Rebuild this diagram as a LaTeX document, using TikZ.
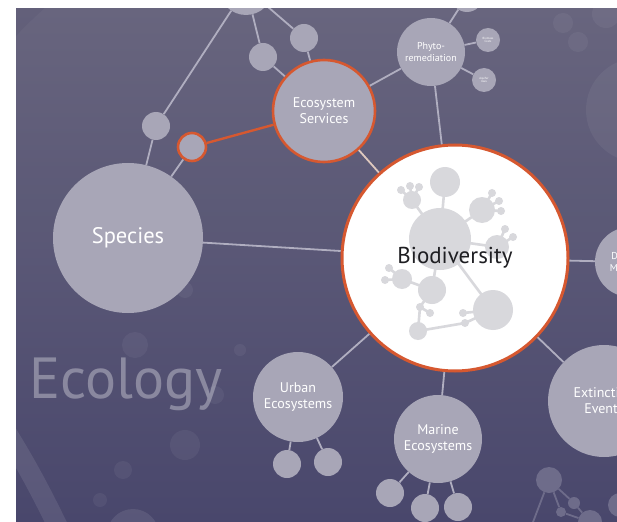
\documentclass[tikz,border=0pt]{standalone}
\usepackage{fontspec}
\setmainfont{PT Sans}
\definecolor{bgtop}{RGB}{99,96,122}
\definecolor{bgbot}{RGB}{67,65,103}
\definecolor{nodegray}{RGB}{168,166,183}
\definecolor{linegray}{RGB}{176,174,192}
\definecolor{accent}{RGB}{214,88,48}
\definecolor{peach}{RGB}{222,200,190}
\definecolor{decor}{RGB}{216,216,220}
\definecolor{faintmol}{RGB}{110,108,138}
\tikzset{
  gnode/.style={circle, fill=nodegray, inner sep=0pt, text=white, align=center},
  onode/.style={gnode, draw=accent, line width=2.6pt},
  conn/.style={draw=linegray, line width=1.8pt},
  oconn/.style={draw=accent, line width=2.4pt},
  deco/.style={fill=decor},
  decoline/.style={draw=decor, line width=2.6pt},
  faint/.style={fill=white, fill opacity=0.05},
  fmol/.style={fill=faintmol},
  fmolline/.style={draw=faintmol, line width=1.8pt},
}
\begin{document}
\begin{tikzpicture}[x=1pt,y=-1pt]
\useasboundingbox (0,0) rectangle (617,521);
\begin{scope}
\clip (16,9) rectangle (617,521);
\shade[top color=bgtop, bottom color=bgbot] (16,9) rectangle (617,521);
% faint background shapes
\fill[white, fill opacity=0.035] (330,330) circle (430);
\draw[white, draw opacity=0.09, line width=20pt] (5,430) .. controls (30,470) and (45,500) .. (62,535);
\fill[faint] (638,110) circle (52);
\fill[faint] (563,23) circle (10);
\fill[faint] (578,42) circle (10);
\fill[faint] (606,14) circle (14);
\fill[faint] (135,345) circle (13);
\fill[faint] (185,290) circle (8);
\fill[faint] (185,445) circle (15);
\fill[faint] (123,470) circle (9);
\fill[faint] (215,395) circle (9);
\fill[faint] (240,350) circle (6);
\fill[faint] (100,500) circle (7);
\fill[white, fill opacity=0.09] (133,535) circle (26);
% Ecology
\node[text=white, text opacity=0.33, font=\fontsize{58}{62}\selectfont] (ecology) at (126,384) {Ecology};
% faint molecule bottom right
\coordinate (fm0) at (530,530);
\node[circle, fmol, minimum size=26pt, inner sep=0pt] (bm0) at (549,480) {};
\node[circle, fmol, minimum size=10pt, inner sep=0pt] (bm1) at (561,512) {};
\node[circle, fmol, minimum size=12pt, inner sep=0pt] (bm2) at (574,503) {};
\node[circle, fmol, minimum size=24pt, inner sep=0pt] (bm3) at (590,522) {};
\node[circle, fmol, minimum size=24pt, inner sep=0pt] (bm4) at (620,505) {};
\draw[fmolline] (bm0) -- (fm0);
\draw[fmolline] (bm0) -- (bm1);
\draw[fmolline] (bm0) -- (bm2);
\draw[fmolline] (bm2) -- (bm3);
\draw[fmolline] (bm1) -- (bm3);
% nodes
\node[gnode, minimum size=54pt] (topc) at (246,-12) {};
\node[gnode, minimum size=28pt] (s1) at (263,57) {};
\node[gnode, minimum size=28pt] (s2) at (304,38) {};
\node[gnode, minimum size=28pt] (s3) at (156,126) {};
\node[onode, minimum size=28pt] (os) at (192,147) {};
\node[gnode, minimum size=150pt, font=\fontsize{22.5}{26}\selectfont] (species) at (128,238) {Species};
\node[onode, minimum size=102pt, font=\fontsize{14}{16}\selectfont] (eco) at (324,111) {Ecosystem\\Services};
\node[gnode, minimum size=68pt, font=\fontsize{10}{11.5}\selectfont] (phyto) at (431,52) {Phyto-\\remediation};
\node[gnode, minimum size=32pt] (phtop) at (467,-4) {};
\node[gnode, minimum size=24pt, font=\fontsize{3}{3.5}\selectfont] (biom) at (488,40) {Biomass\\Costs};
\node[gnode, minimum size=24pt, font=\fontsize{3}{3.5}\selectfont] (aqui) at (484,80) {Aquifer\\Uses};
\node[circle, fill=white, draw=accent, line width=3pt, inner sep=0pt, minimum size=226pt] (bio) at (455,258) {};
\node[gnode, minimum size=70pt, font=\fontsize{10}{12.5}\selectfont] (dis) at (630,262) {Diversity\\Measures};
\node[gnode, minimum size=112pt, font=\fontsize{14}{16}\selectfont] (ext) at (604,401) {Extinction\\Events};
\node[gnode, minimum size=88pt, font=\fontsize{14}{16.5}\selectfont] (marine) at (438,439) {Marine\\Ecosystems};
\node[gnode, minimum size=28pt] (m1) at (390,493) {};
\node[gnode, minimum size=28pt] (m2) at (425,508) {};
\node[gnode, minimum size=28pt] (m3) at (458,507) {};
\node[gnode, minimum size=90pt, font=\fontsize{14}{16.5}\selectfont] (urban) at (298,397) {Urban\\Ecosystems};
\node[gnode, minimum size=28pt] (u1) at (287,464) {};
\node[gnode, minimum size=28pt] (u2) at (328,462) {};
% connectors
\draw[conn] (topc) -- (s3);
\draw[conn] (topc) -- (s1);
\draw[conn] (topc) -- (s2);
\draw[conn] (s1) -- (eco);
\draw[conn] (s2) -- (eco);
\draw[conn] (s3) -- (species);
\draw[conn] (os) -- (species);
\draw[oconn] (os) -- (eco);
\draw[conn] (eco) -- (phyto);
\draw[draw=peach, line width=1.8pt] (eco) -- (bio);
\draw[conn] (phyto) -- (bio);
\draw[conn] (phyto) -- (phtop);
\draw[conn] (phyto) -- (biom);
\draw[conn] (phyto) -- (aqui);
\draw[conn] (species) -- (bio);
\draw[conn] (bio) -- (dis);
\draw[conn] (bio) -- (ext);
\draw[conn] (bio) -- (marine);
\draw[conn] (bio) -- (urban);
\draw[conn] (marine) -- (m1);
\draw[conn] (marine) -- (m2);
\draw[conn] (marine) -- (m3);
\draw[conn] (urban) -- (u1);
\draw[conn] (urban) -- (u2);
% decoration inside Biodiversity
\draw[decoline] (440,239) -- (445,182);
\draw[decoline] (440,239) -- (482,210);
\draw[decoline] (440,239) -- (497,247);
\draw[decoline] (440,239) -- (412,200);
\draw[decoline] (440,239) -- (432,290);
\draw[decoline] (440,239) -- (493,310);
\draw[decoline] (432,290) -- (402,279);
\draw[decoline] (402,279) -- (389,268);
\draw[decoline] (402,279) -- (385,280);
\draw[decoline] (432,290) -- (420,307) -- (418,331);
\draw[decoline] (420,307) -- (430,313);
\draw[decoline] (418,331) -- (465,323) -- (493,310);
\draw[decoline] (463,313) -- (493,310);
\draw[decoline] (412,200) -- (401,190);
\draw[decoline] (412,200) -- (410,186);
\draw[decoline] (412,200) -- (419,187);
\draw[decoline] (482,210) -- (492,193);
\draw[decoline] (482,210) -- (499,201);
\draw[decoline] (482,210) -- (501,211);
\draw[decoline] (497,247) -- (505,229);
\draw[decoline] (497,247) -- (513,237);
\fill[deco] (440,239) circle (31);
\fill[deco] (445,182) circle (15);
\fill[deco] (482,210) circle (13);
\fill[deco] (497,247) circle (12);
\fill[deco] (412,200) circle (9);
\fill[deco] (402,279) circle (10);
\fill[deco] (432,290) circle (14);
\fill[deco] (493,310) circle (20);
\fill[deco] (418,331) circle (9);
\foreach \p in {(492,193),(499,201),(501,211),(505,229),(513,237),(401,190),(410,186),(419,187),(389,268),(385,280),(420,307),(430,313),(463,313),(465,323)}
  \fill[deco] \p circle (4);
\node[text={rgb,255:red,30;green,30;blue,34}, font=\fontsize{23}{27}\selectfont] (biotext) at (bio) {Biodiversity};
\end{scope}
\end{tikzpicture}
\end{document}
